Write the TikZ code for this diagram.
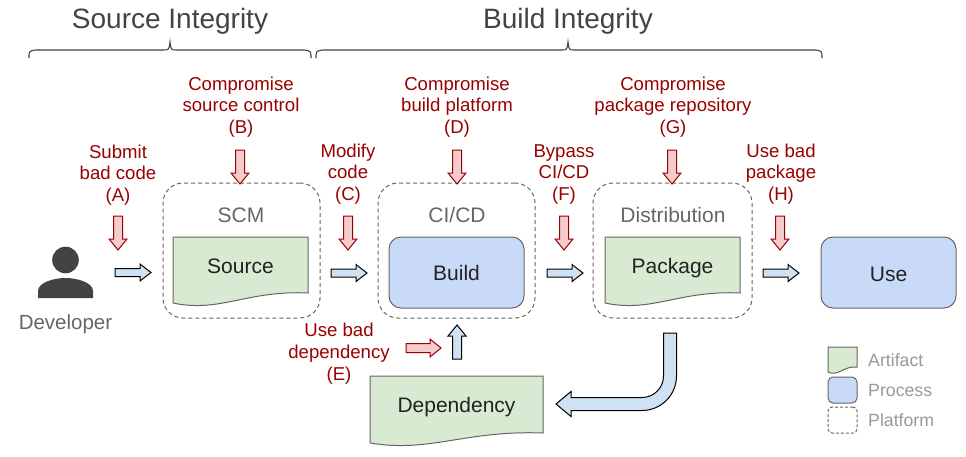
\documentclass[tikz,border=0pt]{standalone}
\usepackage{fontspec}
\setmainfont{Liberation Sans}
\definecolor{threatred}{HTML}{990000}
\definecolor{threatfill}{HTML}{F4CCCC}
\definecolor{flowfill}{HTML}{CFE2F3}
\definecolor{artfill}{HTML}{D9EAD3}
\definecolor{procfill}{HTML}{C9DAF8}
\definecolor{titlegray}{HTML}{434343}
\definecolor{platgray}{HTML}{666666}
\definecolor{legendgray}{HTML}{999999}
\definecolor{inktext}{HTML}{222222}
\newcommand{\docpath}[5]{(#1,#2) -- (#3,#2) -- (#3,#4-#5) .. controls ({#1+0.55*(#3-#1)},{#4-1.3*#5}) and ({#1+0.35*(#3-#1)},{#4+#5}) .. (#1,#4) -- cycle}
\tikzset{
  lbl/.style={text=threatred, font=\fontsize{18.6}{21.7}\selectfont, align=center, anchor=base, inner sep=0pt},
  titletext/.style={text=titlegray, font=\fontsize{28}{32}\selectfont, anchor=base, inner sep=0pt},
  nodetext/.style={text=inktext, font=\fontsize{21}{24}\selectfont, anchor=base, inner sep=0pt},
  plattext/.style={text=platgray, font=\fontsize{21}{24}\selectfont, anchor=base, inner sep=0pt},
  legendtext/.style={text=legendgray, font=\fontsize{17.7}{20}\selectfont, anchor=base west, inner sep=0pt},
  platform/.style={draw=platgray, dash pattern=on 4pt off 3pt, rounded corners=20pt, line width=1pt, inner sep=0pt},
  process/.style={draw=platgray, fill=procfill, rounded corners=12pt, line width=1pt, inner sep=0pt},
  artifact/.style={draw=platgray, fill=artfill, line width=1pt},
  threat/.style={draw=threatred, fill=threatfill, line width=1pt},
  flow/.style={draw=black, fill=flowfill, line width=1pt},
  bracestyle/.style={draw=titlegray, line width=1.1pt},
  downthreat/.pic={\path[threat] (-4.5,0) -- (4.5,0) -- (4.5,23) -- (9,23) -- (0,34) -- (-9,23) -- (-4.5,23) -- cycle;},
  rightthreat/.pic={\path[threat] (0,-4.5) -- (24,-4.5) -- (24,-9) -- (35,0) -- (24,9) -- (24,4.5) -- (0,4.5) -- cycle;},
  rightflow/.pic={\path[flow] (0,-4) -- (25,-4) -- (25,-8.5) -- (36,0) -- (25,8.5) -- (25,4) -- (0,4) -- cycle;},
  upflow/.pic={\path[flow] (-4.5,0) -- (-4.5,-23) -- (-9,-23) -- (0,-34) -- (9,-23) -- (4.5,-23) -- (4.5,0) -- cycle;}
}
\begin{document}
\begin{tikzpicture}[x=1pt,y=-1pt]
\useasboundingbox[fill=white] (0,0) rectangle (966,456);

% titles and braces
\node[titletext] (srcint) at (170,28.3) {Source Integrity};
\node[titletext] (bldint) at (568,28.3) {Build Integrity};
\draw[bracestyle] (29,58) .. controls (29,51) .. (36,50) -- (163,50) .. controls (169,50) .. (170,42) .. controls (171,50) .. (177,50) -- (304,50) .. controls (311,51) .. (311,58);
\draw[bracestyle] (316,58) .. controls (316,51) .. (323,50) -- (561,50) .. controls (567,50) .. (568,42) .. controls (569,50) .. (575,50) -- (815,50) .. controls (822,51) .. (822,58);

% platforms
\node[platform, minimum width=157pt, minimum height=135pt] (scm) at (241.5,250.5) {};
\node[platform, minimum width=157pt, minimum height=135pt] (cicd) at (456.5,250.5) {};
\node[platform, minimum width=159pt, minimum height=135pt] (dist) at (672.5,250.5) {};
\node[plattext] (scmlbl) at (241,222.5) {SCM};
\node[plattext] (cicdlbl) at (457,222) {CI/CD};
\node[plattext] (distlbl) at (673,222) {Distribution};

% artifacts
\path[artifact] \docpath{173}{237}{308}{303}{10};
\node[nodetext] (source) at (240.5,273.3) {Source};
\path[artifact] \docpath{605}{237}{740}{303}{10};
\node[nodetext] (package) at (672.5,273.3) {Package};
\path[artifact] \docpath{370}{376}{543}{443}{10};
\node[nodetext] (dependency) at (456.5,412.7) {Dependency};

% processes
\node[process, minimum width=135pt, minimum height=71pt] (build) at (456.5,272.5) {};
\node[nodetext] (buildlbl) at (456.5,280) {Build};
\node[process, minimum width=135pt, minimum height=71pt] (use) at (888.5,272.5) {};
\node[nodetext] (uselbl) at (888.5,281) {Use};

% developer
\fill[titlegray] (65.5,260) circle (13.3);
\fill[titlegray] (38,298) -- (38,291) .. controls (38,282) and (55,278) .. (65.5,278) .. controls (76,278) and (93,282) .. (93,291) -- (93,298) -- cycle;
\node[plattext, font=\fontsize{20.5}{24}\selectfont] (developer) at (65.5,329) {Developer};

% threat labels (base = baseline of last line)
\node[lbl] (thA) at (118,201.4) {Submit\\bad code\\(A)};
\node[lbl] (thB) at (241,133.4) {Compromise\\source control\\(B)};
\node[lbl] (thC) at (348,200.4) {Modify\\code\\(C)};
\node[lbl] (thD) at (457,133.4) {Compromise\\build platform\\(D)};
\node[lbl] (thF) at (564,200.4) {Bypass\\CI/CD\\(F)};
\node[lbl] (thG) at (673,133.4) {Compromise\\package repository\\(G)};
\node[lbl] (thH) at (781,200.4) {Use bad\\package\\(H)};
\node[lbl] (thE) at (339,380.1) {Use bad\\dependency\\(E)};

% threat arrows
\pic at (118,216) {downthreat};
\pic at (240,150) {downthreat};
\pic at (348,216) {downthreat};
\pic at (457,150) {downthreat};
\pic at (564,216) {downthreat};
\pic at (672,150) {downthreat};
\pic at (780,216) {downthreat};
\pic at (406,348) {rightthreat};

% flow arrows
\pic at (115,272.5) {rightflow};
\pic at (331,273) {rightflow};
\pic at (547,273) {rightflow};
\pic at (763,273) {rightflow};
\pic at (457,359) {upflow};

% curved arrow from package to dependency
\path[flow] (663.5,333) -- (676.5,333) -- (676.5,376) arc[start angle=0, end angle=90, radius=34.5] -- (571,410.5) -- (571,416.5) -- (556,404) -- (571,391.5) -- (571,397.5) -- (642,397.5) arc[start angle=90, end angle=0, radius=21.5] -- cycle;

% legend
\path[artifact] \docpath{828}{347}{857}{372}{5};
\node[process, rounded corners=5pt, minimum width=29pt, minimum height=26pt] (legproc) at (842.5,390) {};
\node[platform, rounded corners=4pt, dash pattern=on 3pt off 2pt, minimum width=29pt, minimum height=26pt] (legplat) at (842.5,420) {};
\node[legendtext] (legA) at (868,366.7) {Artifact};
\node[legendtext] (legB) at (868,396.7) {Process};
\node[legendtext] (legC) at (868,426.7) {Platform};
\end{tikzpicture}
\end{document}
